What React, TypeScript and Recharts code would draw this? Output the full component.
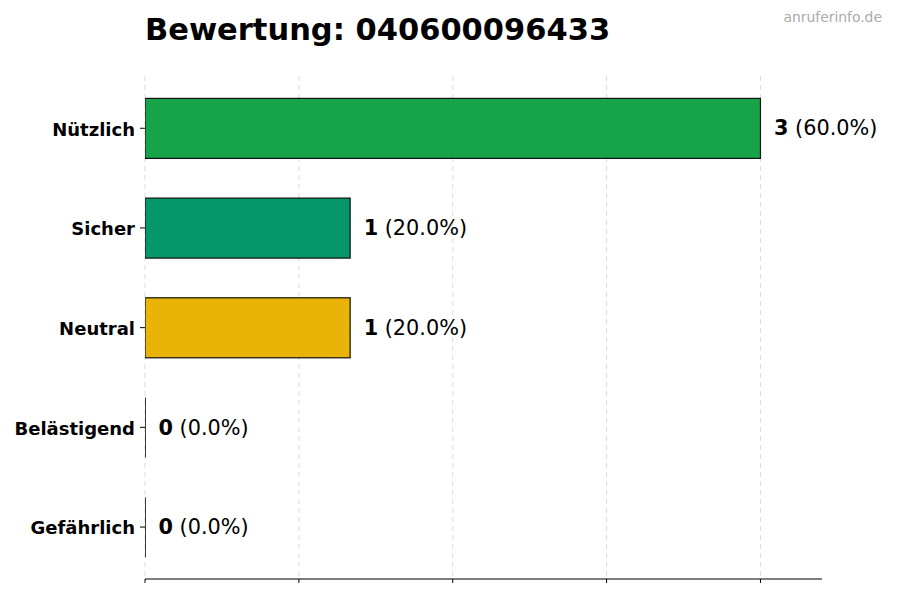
import React from 'react';
import { BarChart, Bar, XAxis, YAxis, CartesianGrid, Cell, LabelList } from 'recharts';

const categories = ['Nützlich', 'Sicher', 'Neutral', 'Belästigend', 'Gefährlich'];
const counts = [3, 1, 1, 0, 0];
const colours = ['#16a34a', '#059669', '#eab308', '#f97316', '#dc2626'];
const xTicks = [0, 0.75, 1.5, 2.25, 3];
const xMax = 3.3;

const total = counts.reduce((a, b) => a + b, 0);

const data = categories.map((name, i) => ({
  name,
  value: counts[i],
  colour: colours[i],
}));

const font = '"DejaVu Sans", sans-serif';

function BarShape(props: any) {
  const { x, y, width, height, fill } = props;
  if (!width) {
    return <line x1={x} x2={x} y1={y} y2={y + height} stroke="#000" strokeWidth={1.5} />;
  }
  return (
    <rect x={x} y={y} width={width} height={height} fill={fill} stroke="#111" strokeWidth={1.2} />
  );
}

function ValueLabel(props: any) {
  const { x, y, width, height, value } = props;
  const pct = total ? ((value / total) * 100).toFixed(1) : '0.0';
  return (
    <text
      x={x + width + 13.5}
      y={y + height / 2}
      dominantBaseline="central"
      fontSize={20.8}
      fontFamily={font}
      fill="#000"
    >
      <tspan fontWeight="bold">{value}</tspan>
      <tspan> ({pct}%)</tspan>
    </text>
  );
}

// x axis keeps its tick marks but shows no numbers
function NoTick() {
  return <g />;
}

// grid only at the tick values, not at the right edge of the plot
function gridX({ xAxis, offset }: any) {
  const s = xAxis && xAxis.scale;
  if (typeof s === 'function') return xTicks.map((t) => s(t));
  if (s && typeof s.map === 'function') return xTicks.map((t) => s.map(t));
  return xTicks.map((t) => offset.left + (t / xMax) * offset.width);
}

export default function App() {
  return (
    <div style={{ position: 'absolute', left: 0, top: 0, width: 900, height: 600, background: '#fff', fontFamily: font }}>
      <div
        style={{
          position: 'absolute',
          left: 145,
          top: 11.5,
          fontSize: 30.5,
          fontWeight: 'bold',
          color: '#000',
          lineHeight: 'normal',
          whiteSpace: 'nowrap',
        }}
      >
        Bewertung: 040600096433
      </div>
      <div
        style={{
          position: 'absolute',
          right: 18,
          top: 9,
          fontSize: 13.9,
          color: '#aaaaaa',
          lineHeight: 'normal',
        }}
      >
        anruferinfo.de
      </div>
      <BarChart
        width={900}
        height={600}
        data={data}
        layout="vertical"
        margin={{ top: 76, right: 78, bottom: 1, left: 0 }}
      >
        <CartesianGrid
          horizontal={false}
          verticalCoordinatesGenerator={gridX}
          stroke="#cccccc"
          strokeDasharray="5 4"
          strokeOpacity={0.7}
        />
        <XAxis
          type="number"
          domain={[0, xMax]}
          ticks={xTicks}
          tick={<NoTick />}
          tickSize={4}
          height={20}
          stroke="#000"
          axisLine={{ stroke: '#000', strokeWidth: 1.2 }}
          tickLine={{ stroke: '#000', strokeWidth: 1 }}
          allowDataOverflow
        />
        <YAxis
          type="category"
          dataKey="name"
          width={145}
          stroke="#000"
          axisLine={false}
          tickSize={5}
          tickMargin={5}
          tickLine={{ stroke: '#000', strokeWidth: 1 }}
          padding={{ top: 2.4, bottom: 2.1 }}
          tick={{ fontSize: 18, fontWeight: 'bold', fill: '#000', fontFamily: font, dy: 1 }}
        />
        <Bar dataKey="value" barSize={60} shape={<BarShape />} isAnimationActive={false}>
          {data.map((entry, index) => (
            <Cell key={`cell-${index}`} fill={entry.colour} />
          ))}
          <LabelList dataKey="value" content={<ValueLabel />} />
        </Bar>
      </BarChart>
    </div>
  );
}
